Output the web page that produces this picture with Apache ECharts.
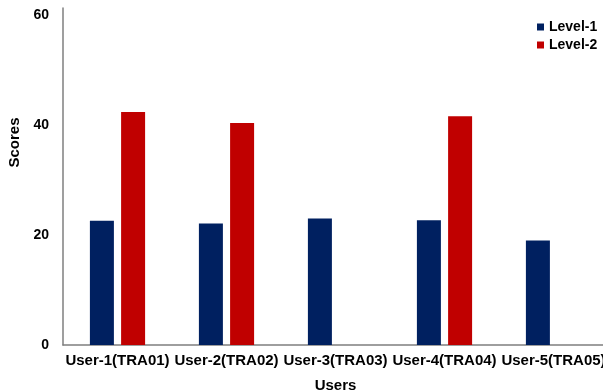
<!DOCTYPE html>
<html><head><meta charset="utf-8">
<script src="https://cdn.jsdelivr.net/npm/echarts@6/dist/echarts.min.js"></script>
<style>html,body{margin:0;padding:0;background:#fff}#c{width:603px;height:391px}</style>
</head><body><div id="c"></div>
<script>
const categories = ['User-1(TRA01)','User-2(TRA02)','User-3(TRA03)','User-4(TRA04)','User-5(TRA05)'];
const level1 = [22.6, 22.1, 23.0, 22.7, 19.0];
const level2 = [42.4, 40.4, null, 41.6, null];
const seriesNames = ['Level-1','Level-2'];
const font = 'Liberation Sans, Arial, sans-serif';
const chart = echarts.init(document.getElementById('c'), null, {renderer:'canvas'});
chart.setOption({
  animation:false,
  backgroundColor:'#fff',
  legend:{orient:'vertical',left:537,top:20,itemWidth:7,itemHeight:7,itemGap:4,icon:'rect',padding:0,
    textStyle:{fontFamily:font,fontWeight:'bold',fontSize:14,color:'#000'},
    data:seriesNames},
  grid:{left:63,right:-5,top:8,bottom:46,containLabel:false,outerBoundsMode:'none'},
  xAxis:{type:'category',data:categories,name:'Users',nameLocation:'middle',nameGap:33,
    nameTextStyle:{fontFamily:font,fontWeight:'bold',fontSize:15,color:'#000'},
    axisLine:{lineStyle:{color:'#7f7f7f',width:1.5}},axisTick:{show:false},
    axisLabel:{fontFamily:font,fontWeight:'bold',fontSize:15,color:'#000',margin:8,interval:0,hideOverlap:false}},
  yAxis:{type:'value',min:0,max:61.3,interval:20,name:'Scores',nameLocation:'middle',nameGap:31,
    nameTextStyle:{fontFamily:font,fontWeight:'bold',fontSize:15,color:'#000',padding:[0,0,0,68]},
    axisLine:{show:true,lineStyle:{color:'#7f7f7f',width:1.5}},axisTick:{show:false},splitLine:{show:false},
    axisLabel:{fontFamily:font,fontWeight:'bold',fontSize:14,color:'#000',margin:14,showMaxLabel:false}},
  series:[
    {name:seriesNames[0],type:'bar',data:level1,barWidth:24,barGap:'30%',itemStyle:{color:'#002060'}},
    {name:seriesNames[1],type:'bar',data:level2,barWidth:24,itemStyle:{color:'#C00000'}}
  ]
});
</script></body></html>
